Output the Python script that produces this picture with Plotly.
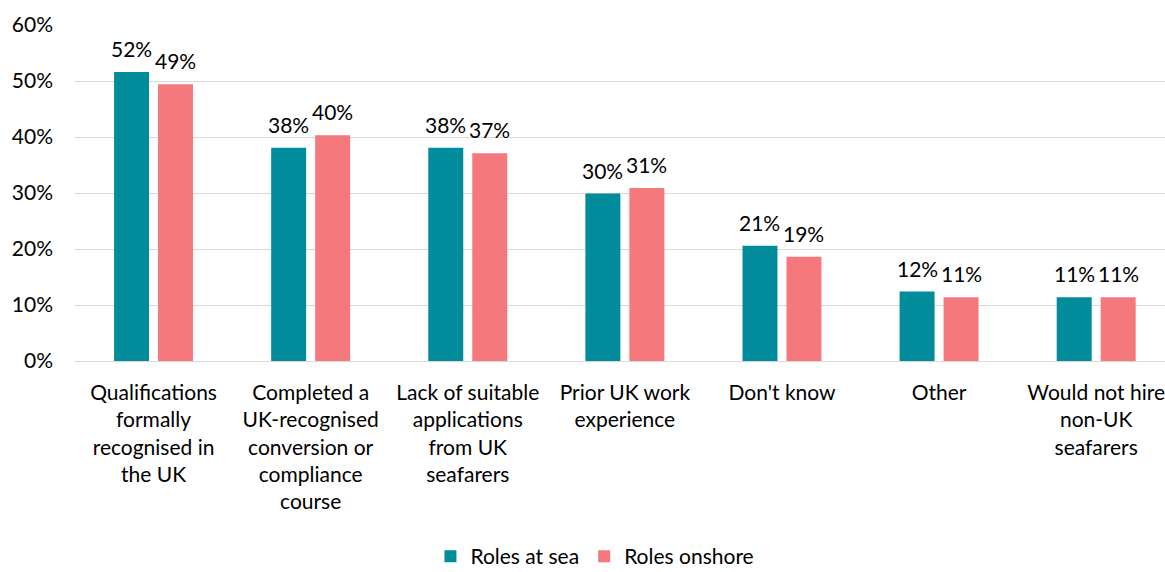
import plotly.graph_objects as go

# Survey results: share of respondents citing each factor
categories = [
    "Qualifications<br>formally<br>recognised in<br>the UK",
    "Completed a<br>UK-recognised<br>conversion or<br>compliance<br>course",
    "Lack of suitable<br>applications<br>from UK<br>seafarers",
    "Prior UK work<br>experience",
    "Don't know",
    "Other",
    "Would not hire<br>non-UK<br>seafarers",
]
roles_at_sea = [0.516, 0.381, 0.381, 0.299, 0.206, 0.124, 0.114]
roles_onshore = [0.494, 0.403, 0.371, 0.309, 0.186, 0.114, 0.114]

series = [
    ("Roles at sea", roles_at_sea, "#008C9B", -22),
    ("Roles onshore", roles_onshore, "#F4787C", 22),
]

FONT = "Lato"
FS = 21

fig = go.Figure()
for name, vals, color, _ in series:
    fig.add_trace(go.Bar(
        name=name, x=categories, y=vals,
        marker=dict(color=color, line=dict(width=0)),
    ))

# Percentage labels above each bar
annotations = []
for name, vals, color, shift in series:
    for cat, v in zip(categories, vals):
        annotations.append(dict(
            x=cat, y=v, xref="x", yref="y", text=f"{round(v * 100)}%",
            showarrow=False, xshift=shift, yshift=9, yanchor="bottom",
            font=dict(family=FONT, size=FS, color="#000000"),
        ))

fig.update_layout(
    width=1165, height=572,
    margin=dict(l=75, r=0, t=25, b=211, autoexpand=False),
    paper_bgcolor="white", plot_bgcolor="white",
    barmode="group", bargap=0.44, bargroupgap=0.205,
    font=dict(family=FONT, size=FS, color="#000000"),
    showlegend=True,
    legend=dict(
        orientation="h", x=0.477, xanchor="center", y=-0.582, yanchor="middle",
        font=dict(family=FONT, size=FS, color="#000000"),
        traceorder="normal", itemwidth=30,
    ),
    annotations=annotations,
)
fig.update_xaxes(
    range=[-0.5, 6.438], showgrid=False, showline=False, zeroline=False,
    ticks="", ticklabelstandoff=17, tickangle=0,
    tickfont=dict(family=FONT, size=FS, color="#000000"),
)
fig.update_yaxes(
    range=[0, 0.6], dtick=0.1, tickformat=".0%",
    showgrid=True, gridcolor="#D9D9D9", gridwidth=1.3,
    zeroline=True, zerolinecolor="#D9D9D9", zerolinewidth=1.3,
    showline=False, ticks="", ticklabelstandoff=21,
    tickfont=dict(family=FONT, size=FS, color="#000000"),
)

fig.write_html("out.html")
